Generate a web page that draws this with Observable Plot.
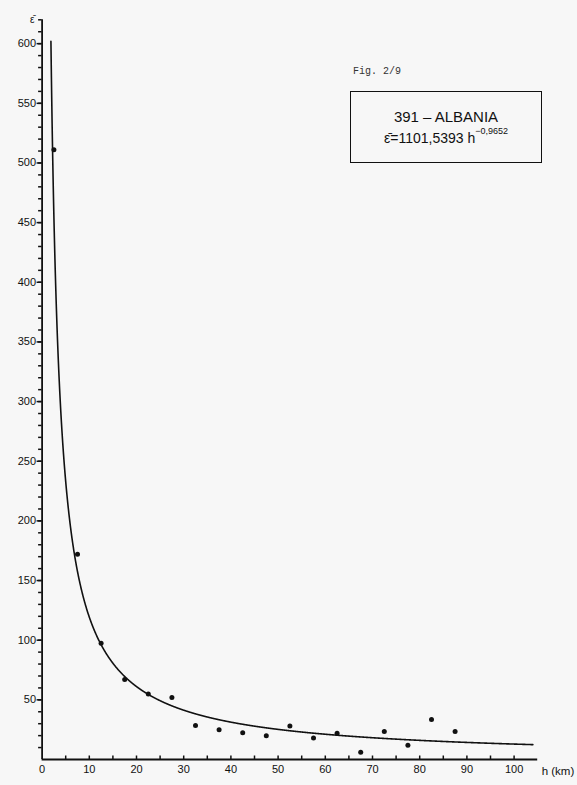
<!DOCTYPE html>
<html>
<head>
<meta charset="utf-8">
<script src="https://cdn.jsdelivr.net/npm/d3@7"></script>
<script src="https://cdn.jsdelivr.net/npm/@observablehq/plot@0.6"></script>
<style>
  html, body { margin: 0; padding: 0; background: #f7f7f7; }
  #wrap { position: relative; width: 577px; height: 785px; font-family: "Liberation Sans", Arial, sans-serif; }
  #fig { position: absolute; left: 353px; top: 66px; font-family: "Liberation Mono", "DejaVu Sans Mono", monospace; font-size: 10px; color: #333; }
  #box { position: absolute; left: 350px; top: 91px; width: 190px; height: 70px; border: 1.5px solid #111; text-align: center; color: #111; }
  #t1 { position: absolute; left: 0; right: 0; top: 16px; font-size: 15px; }
  #t2 { position: absolute; left: 0; right: 0; top: 37px; font-size: 14px; }
  #t2 sup { font-size: 9px; position: relative; top: -3px; }
</style>
</head>
<body>
<div id="wrap">
  <div id="chart"></div>
  <div id="fig">Fig. 2/9</div>
  <div id="box">
    <div id="t1">391 – ALBANIA</div>
    <div id="t2">ε̄=1101,5393 h<sup>−0,9652</sup></div>
  </div>
</div>
<script>
// Observed mean values per 5 km distance class
const distances = [2.5, 7.5, 12.5, 17.5, 22.5, 27.5, 32.5, 37.5, 42.5, 47.5, 52.5, 57.5, 62.5, 67.5, 72.5, 77.5, 82.5, 87.5];
const values = [511, 172, 97.5, 67, 55, 52, 28.5, 25, 22.5, 20, 28, 18, 22, 6, 23.5, 12, 33.5, 23.5];
// Fitted curve parameters
const coefA = 1101.5393;
const coefB = -0.9652;
const curveStart = 1.87, curveEnd = 104;
const yMajorTicks = d3.range(50, 601, 50);
const yMinorTicks = d3.range(10, 621, 10);
const xLabelTicks = d3.range(0, 101, 10);
const xMinorTicks = d3.range(5, 105, 5);

const points = distances.map((h, i) => ({h, e: values[i]}));
const curve = d3.range(curveStart, curveEnd + 0.001, 0.05).map(h => ({h, e: coefA * Math.pow(h, coefB)}));

const ink = "#111";
const chart = Plot.plot({
  width: 577,
  height: 785,
  marginLeft: 41.6,
  marginRight: 39.8,
  marginTop: 19.3,
  marginBottom: 26,
  style: {background: "transparent", fontFamily: "Liberation Sans, Arial, sans-serif", fontSize: "11px", color: ink},
  x: {domain: [0, 105]},
  y: {domain: [0, 620]},
  marks: [
    Plot.ruleX([0], {stroke: ink, strokeWidth: 1.8}),
    Plot.ruleY([0], {stroke: ink, strokeWidth: 1.8}),
    Plot.axisY({ticks: yMinorTicks, tickSize: 3.5, tickFormat: () => "", label: null, stroke: ink, strokeWidth: 1.5}),
    Plot.axisY({ticks: yMajorTicks, tickSize: 5, tickPadding: 1, label: null, stroke: ink, strokeWidth: 1.5, fontSize: 11}),
    Plot.axisX({ticks: xMinorTicks, tickSize: 3.5, dy: -3.5, tickFormat: () => "", label: null, stroke: ink, strokeWidth: 1.5}),
    Plot.axisX({ticks: xLabelTicks, tickSize: 0, tickPadding: 6, label: null, fontSize: 11}),
    Plot.line(curve, {x: "h", y: "e", stroke: ink, strokeWidth: 1.6, clip: true}),
    Plot.dot(points, {x: "h", y: "e", r: 2.5, fill: ink, stroke: null}),
    Plot.text(["ε̄"], {frameAnchor: "top-left", dx: -12, dy: -4, fontSize: 10, fill: ink}),
    Plot.text(["h (km)"], {frameAnchor: "bottom-right", textAnchor: "start", dx: 4, dy: 15, fontSize: 11.5, fill: ink})
  ]
});
document.getElementById("chart").appendChild(chart);
</script>
</body>
</html>
